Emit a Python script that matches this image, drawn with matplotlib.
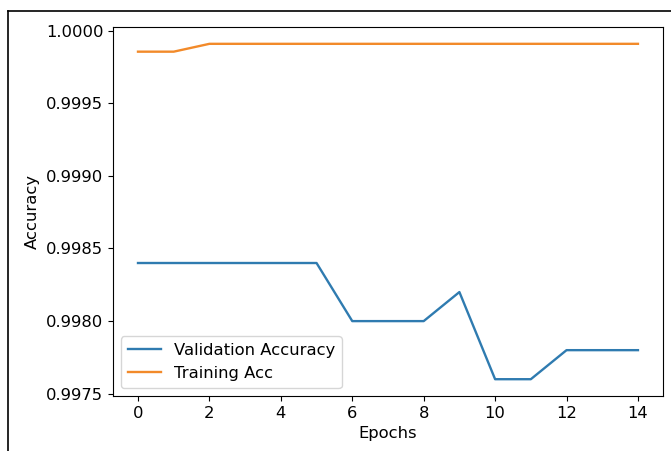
import numpy as np
import matplotlib
matplotlib.use("Agg")
import matplotlib.pyplot as plt
from matplotlib.lines import Line2D

epochs = np.arange(15)
val_acc = [0.9984, 0.9984, 0.9984, 0.9984, 0.9984, 0.9984, 0.9980, 0.9980,
           0.9980, 0.9982, 0.9976, 0.9976, 0.9978, 0.9978, 0.9978]
train_acc = [0.999855, 0.999855, 0.999909, 0.999909, 0.999909, 0.999909,
             0.999909, 0.999909, 0.999909, 0.999909, 0.999909, 0.999909,
             0.999909, 0.999909, 0.999909]

plt.rcParams["font.size"] = 11.8

fig = plt.figure(figsize=(6.71, 4.51), dpi=100)
ax = fig.add_axes([0.1684, 0.122, 0.8196, 0.818])

ax.plot(epochs, val_acc, color="#2f7bb0", linewidth=1.7, label="Validation Accuracy")
ax.plot(epochs, train_acc, color="#f28a2a", linewidth=1.7, label="Training Acc")
ax.set_xticks(np.arange(0, 15, 2))
ax.set_yticks([0.9975, 0.9980, 0.9985, 0.9990, 0.9995, 1.0000])
ax.set_yticklabels(["0.9975", "0.9980", "0.9985", "0.9990", "0.9995", "1.0000"])
ax.set_xlabel("Epochs")
ax.set_ylabel("Accuracy")
ax.legend(loc="lower left")

# screenshot frame (top and left edges)
fig.add_artist(Line2D([8 / 671, 8 / 671], [0, 1 - 11 / 451], transform=fig.transFigure,
                      color="black", linewidth=1.2))
fig.add_artist(Line2D([8 / 671, 1], [1 - 11 / 451, 1 - 11 / 451], transform=fig.transFigure,
                      color="black", linewidth=1.2))

fig.savefig("out.png", dpi=100)
